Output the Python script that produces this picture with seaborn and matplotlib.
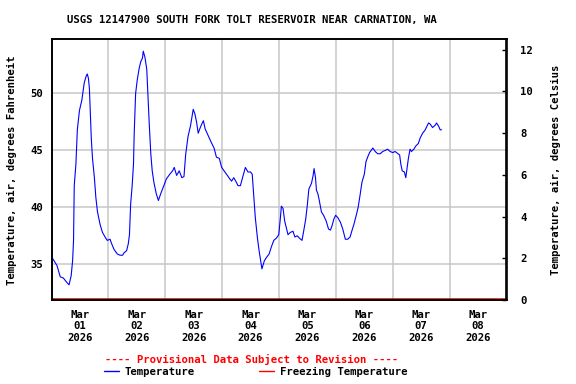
import pandas as pd
import matplotlib.pyplot as plt
from matplotlib.lines import Line2D
import seaborn as sns

# hours after 2026-03-01 00:00, air temperature in deg F
hours = [0.2, 2.3, 3.7, 5.0, 6.5, 7.4, 8.3, 8.9, 9.3, 9.6, 10.3, 10.9, 11.8, 12.8,
         13.8, 14.6, 15.1, 15.6, 16.0, 16.3, 16.8, 17.3, 18.1, 18.7, 19.4, 20.5,
         21.5, 22.6, 23.5, 24.7, 25.4, 26.4, 27.8, 28.9, 30.0, 30.6, 31.7, 32.4,
         32.9, 33.4, 34.0, 34.6, 34.9, 35.5, 36.2, 37.0, 37.7, 38.4, 38.7, 39.4,
         40.2, 40.8, 41.3, 41.9, 42.5, 43.2, 44.2, 45.1, 46.1, 47.2, 48.5, 49.9,
         51.1, 51.8, 52.8, 53.9, 55.0, 55.9, 56.6, 57.6, 58.7, 59.4, 59.8, 60.5,
         61.2, 61.9, 62.6, 63.4, 64.1, 64.8, 66.1, 67.4, 68.6, 69.6, 70.8, 71.8,
         73.2, 74.2, 75.2, 76.0, 76.9, 78.0, 78.7, 79.7, 80.9, 81.8, 82.9, 84.0,
         84.7, 85.3, 86.0, 86.9, 87.6, 88.3, 88.8, 89.8, 90.7, 91.8, 92.9, 93.8,
         94.9, 95.9, 96.6, 97.0, 97.7, 98.4, 99.1, 99.8, 100.8, 101.9, 102.7,
         103.7, 104.6, 105.7, 106.4, 107.3, 108.0, 108.6, 109.7, 110.4, 110.8,
         111.4, 111.8, 112.4, 113.0, 113.9, 114.8, 115.9, 116.9, 117.7, 118.4,
         119.2, 119.9, 120.8, 121.9, 122.9, 124.0, 125.0, 126.0, 126.7, 127.6,
         128.6, 129.4, 130.3, 131.0, 132.0, 132.7, 133.4, 134.2, 134.9, 135.6,
         136.6, 137.6, 138.7, 139.8, 140.9, 141.8, 142.9, 144.0, 145.0, 146.2,
         146.9, 147.4, 148.0, 148.9, 149.5, 150.0, 150.6, 151.3, 151.9, 152.9,
         153.8, 154.8, 155.6, 156.6, 157.7, 158.4, 159.1, 159.8, 160.8, 161.9,
         162.5, 163.4, 164.0, 164.6]
temp_f = [35.6, 34.9, 33.9, 33.8, 33.4, 33.2, 34.0, 35.3, 37.1, 41.9, 43.8, 46.8, 48.5, 49.4,
          50.9, 51.5, 51.7, 51.3, 50.4, 48.7, 46.0, 44.3, 42.6, 40.9, 39.6, 38.5,
          37.8, 37.4, 37.1, 37.2, 36.8, 36.3, 35.9, 35.8, 35.8, 36.0, 36.2, 36.8,
          37.6, 40.3, 41.8, 43.8, 46.5, 50.0, 51.2, 52.2, 52.8, 53.1, 53.7, 53.2,
          52.1, 49.4, 47.1, 44.7, 43.2, 42.2, 41.2, 40.6, 41.2, 41.8, 42.5, 42.9,
          43.2, 43.5, 42.8, 43.2, 42.6, 42.7, 44.6, 46.2, 47.2, 48.1, 48.6, 48.2,
          47.5, 46.5, 46.9, 47.3, 47.6, 46.9, 46.3, 45.7, 45.2, 44.4, 44.3, 43.5,
          43.1, 42.8, 42.5, 42.3, 42.6, 42.2, 41.9, 41.9, 42.8, 43.5, 43.1, 43.1,
          42.9, 41.2, 39.1, 37.3, 36.2, 35.3, 34.6, 35.3, 35.6, 35.9, 36.6, 37.1,
          37.3, 37.6, 39.1, 40.1, 39.9, 38.8, 38.2, 37.6, 37.8, 37.9, 37.4,
          37.5, 37.3, 37.1, 37.9, 39.0, 40.3, 41.6, 42.1, 42.8, 43.4,
          42.6, 41.5, 41.2, 40.6, 39.6, 39.3, 38.8, 38.1, 38.0, 38.4,
          39.0, 39.3, 39.1, 38.7, 38.1, 37.2, 37.2, 37.4, 37.9, 38.5,
          39.3, 40.0, 41.2, 42.2, 42.9, 44.0, 44.4, 44.8, 45.0, 45.2,
          44.9, 44.7, 44.7, 44.9, 45.0, 45.1, 44.9, 44.8, 44.9, 44.7,
          44.6, 43.8, 43.2, 43.1, 42.6, 43.4, 44.3, 45.1, 44.9, 45.1,
          45.4, 45.6, 46.1, 46.5, 46.8, 47.1, 47.4, 47.3, 47.0, 47.2,
          47.4, 47.1, 46.8, 46.8]
day_labels = ['Mar\n01\n2026', 'Mar\n02\n2026', 'Mar\n03\n2026', 'Mar\n04\n2026',
              'Mar\n05\n2026', 'Mar\n06\n2026', 'Mar\n07\n2026', 'Mar\n08\n2026']
f_ticks = [35, 40, 45, 50]
c_ticks = [0, 2, 4, 6, 8, 10, 12]

start = pd.Timestamp('2026-03-01')
df = pd.DataFrame({'time': start + pd.to_timedelta(hours, unit='h'), 'temp': temp_f})

# seaborn theme first, then the fonts (set_theme resets them)
sns.set_theme(style="white")
fs = 7.7
plt.rcParams['font.family'] = ['DejaVu Sans Mono']
plt.rcParams['font.weight'] = 'bold'
plt.rcParams['font.size'] = fs
plt.rcParams['xtick.labelsize'] = fs
plt.rcParams['ytick.labelsize'] = fs
plt.rcParams['legend.fontsize'] = fs
for k in ['text.color', 'axes.labelcolor', 'xtick.color', 'ytick.color', 'axes.edgecolor']:
    plt.rcParams[k] = 'black'
plt.rcParams['axes.linewidth'] = 1.2

fig = plt.figure(figsize=(5.76, 3.84), dpi=100)
ax = fig.add_axes([51.5 / 576, 1 - 300 / 384, 455 / 576, 260.7 / 384])

sns.lineplot(data=df, x='time', y='temp', ax=ax, color='blue', linewidth=0.8)
ax.axhline(32, color='#e00000', lw=1.1)

ax.set_xlim(start, start + pd.Timedelta(days=8))
ax.set_ylim(31.87, 54.74)
ax.set_yticks(f_ticks)
ax.set_xticks([start + pd.Timedelta(days=i, hours=12) for i in range(len(day_labels))])
ax.set_xticklabels(day_labels)
ax.set_xticks([start + pd.Timedelta(days=i) for i in range(1, 8)], minor=True)
ax.set_xlabel('')
ax.set_ylabel('')
ax.grid(True, which='minor', axis='x', color='#c8c8c8', lw=1.1)
ax.grid(True, which='major', axis='y', color='#c8c8c8', lw=1.1)
ax.set_axisbelow(True)
ax.tick_params(axis='x', which='both', length=0, pad=7)
ax.tick_params(axis='y', length=0, pad=6)

ax2 = ax.twinx()
ax2.set_ylim(0, 12.5)
ax2.set_yticks(c_ticks)
ax2.grid(False)
ax2.tick_params(axis='y', direction='in', length=3, width=1, pad=10)

fig.text(252 / 576, 1 - 20 / 384, 'USGS 12147900 SOUTH FORK TOLT RESERVOIR NEAR CARNATION, WA',
         ha='center', va='center')
fig.text(12 / 576, 1 - 170 / 384, 'Temperature, air, degrees Fahrenheit',
         rotation=90, ha='center', va='center')
fig.text(556 / 576, 1 - 170 / 384, 'Temperature, air, degrees Celsius',
         rotation=90, ha='center', va='center')
fig.text(252 / 576, 1 - 359 / 384, '---- Provisional Data Subject to Revision ----',
         ha='center', va='center', color='red')

handles = [Line2D([], [], color='blue', lw=1), Line2D([], [], color='red', lw=1)]
fig.legend(handles, ['Temperature', 'Freezing Temperature'], ncol=2, frameon=False,
           loc='center left', bbox_to_anchor=(104 / 576, 1 - 372 / 384),
           borderpad=0, borderaxespad=0, handlelength=1.4, handletextpad=0.55,
           columnspacing=6.0)

fig.savefig('out.png', dpi=100)
